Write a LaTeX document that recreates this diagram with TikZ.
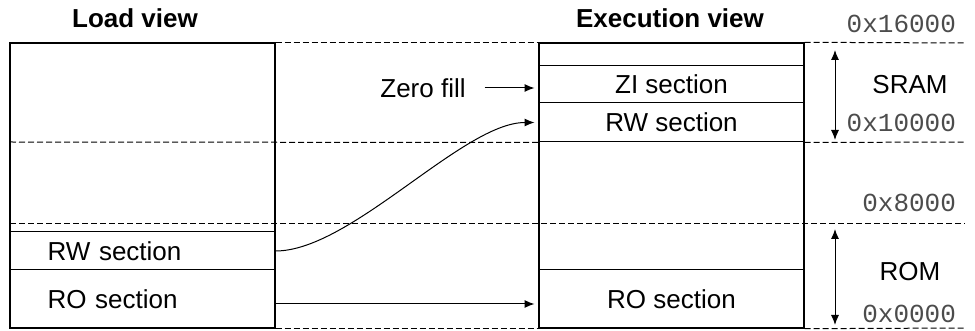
\documentclass[tikz,border=0pt]{standalone}
\usepackage{fontspec}
\setmainfont{Liberation Sans}
\setmonofont{Liberation Mono}
\usetikzlibrary{arrows.meta}
\tikzset{
  mem/.style={draw, line width=0.7pt, minimum width=132.5pt, minimum height=142.5pt, inner sep=0pt},
  sect/.style={draw, line width=0.5pt, minimum width=132.5pt, inner sep=0pt},
  lsect/.style={sect, text width=95pt, inner xsep=18.75pt, align=left},
  bound/.style={line width=0.5pt, dash pattern=on 3pt off 1.5pt},
  addr/.style={anchor=base east, text=black!70, font=\ttfamily\fontsize{13}{15}\selectfont},
  tip/.style={-{Latex[length=5pt,width=4pt]}},
  span/.style={{Latex[length=5pt,width=4pt]}-{Latex[length=5pt,width=4pt]}}
}
\begin{document}
\begin{tikzpicture}[x=0.5pt,y=-0.5pt,font=\fontsize{13}{15}\selectfont]
\useasboundingbox (0,0) rectangle (975,331);
% the two memory columns
\node[mem] (load) at (142.5,185.5) {};
\node[mem] (exec) at (671.5,185.5) {};
\node[font=\bfseries\fontsize{13}{15}\selectfont] (lt) at (135,18) {Load view};
\node[font=\bfseries\fontsize{13}{15}\selectfont] (et) at (670,18) {Execution view};
% sections
\node[lsect, minimum height=19pt] (lrw) at (142.5,251) {RW section};
\node[lsect, minimum height=29pt] (lro) at (142.5,299) {RO section};
\node[sect, minimum height=18.5pt] (zi) at (671.5,84.5) {ZI section};
\node[sect, minimum height=19.5pt] (erw) at (671.5,122.5) {RW section};
\node[sect, minimum height=29pt] (ero) at (671.5,299) {RO section};
% address boundaries
\path[draw,bound] (load.north east) -- (exec.north west);
\path[draw,bound] (exec.north east) -- (965,43);
\path[draw,bound] (10,142) -- (erw.south west);
\path[draw,bound] (erw.south east) -- (965,142);
\path[draw,bound] (10,224) -- (965,224);
\path[draw,bound] (load.south east) -- (exec.south west);
\path[draw,bound] (exec.south east) -- (965,328);
% addresses
\node[addr] (a1) at (963,33) {0x16000};
\node[addr] (a2) at (963,132) {0x10000};
\node[addr] (a3) at (963,212) {0x8000};
\node[addr] (a4) at (963,323) {0x0000};
% regions
\node (sram) at (910,85) {SRAM};
\node (rom) at (910,272) {ROM};
\coordinate (s1) at (835,50);
\coordinate (s2) at (835,140);
\coordinate (r1) at (835,229);
\coordinate (r2) at (835,325);
\path[draw,span,line width=0.5pt] (s1) -- (s2);
\path[draw,span,line width=0.5pt] (r1) -- (r2);
% copying
\node (zf) at (423,88) {Zero fill};
\path[draw,tip,line width=0.5pt,shorten <=6pt,shorten >=2pt] (zf.east) -- (zf.east -| zi.west);
\path[draw,tip,line width=0.5pt,shorten >=2pt] (lrw.east) to[out=0,in=180,looseness=0.66] (erw.west);
\path[draw,tip,line width=0.5pt,shorten >=2pt] ([yshift=-2.5pt]lro.east) -- ([yshift=-2.5pt]ero.west);
\end{tikzpicture}
\end{document}
